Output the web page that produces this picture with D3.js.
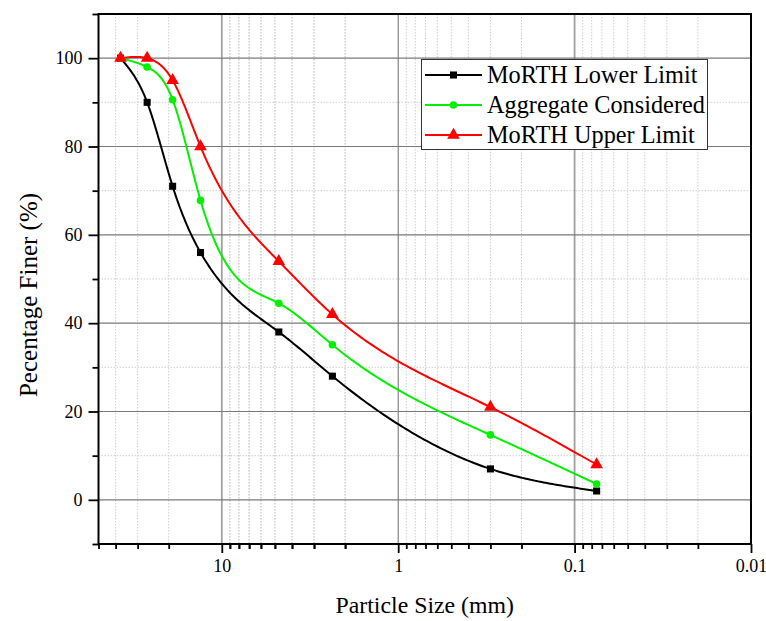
<!DOCTYPE html>
<html>
<head>
<meta charset="utf-8">
<script src="https://cdn.jsdelivr.net/npm/d3@7/dist/d3.min.js"></script>
<style>
  html, body { margin: 0; padding: 0; background: #fff; }
  svg { display: block; }
  text { font-family: "Liberation Serif", "Times New Roman", serif; fill: #000; }
</style>
</head>
<body>
<svg id="chart" width="766" height="621"></svg>
<script>
// Sieve sizes (mm) and percentage passing for each gradation
const sieveSizes = [37.5, 26.5, 19, 13.2, 4.75, 2.36, 0.3, 0.075];
const lowerLimit = [100, 90, 71, 56, 38, 28, 7, 2];
const aggregate  = [100, 98, 90.6, 67.8, 44.5, 35.1, 14.7, 3.6];
const upperLimit = [100, 100, 95, 80, 54, 42, 21, 8];

const seriesNames = ["MoRTH Lower Limit", "Aggregate Considered", "MoRTH Upper Limit"];
const seriesColors = ["#000000", "#00f000", "#ff0000"];
const seriesSymbols = [d3.symbolSquare, d3.symbolCircle, d3.symbolTriangle];
const seriesSymbolSizes = [50, 45, 70];

const xMajorTicks = [10, 1, 0.1, 0.01];
const yMajorTicks = [0, 20, 40, 60, 80, 100];
const yMinorTicks = [-10, 10, 30, 50, 70, 90, 110];

const margin = { left: 98.5, right: 15, top: 14, bottom: 77 };
const W = 766, H = 621;
const svg = d3.select("#chart");

const x = d3.scaleLog().domain([50, 0.01]).range([margin.left, W - margin.right]);
const y = d3.scaleLinear().domain([-10, 110]).range([H - margin.bottom, margin.top]);

const x0 = x.range()[0], x1 = x.range()[1];
const y0 = y.range()[0], y1 = y.range()[1];

// minor x positions: 2..9 in each decade, plus 20..50 in the top decade
const xMinorTicks = [];
[0.01, 0.1, 1].forEach(base => { for (let k = 2; k <= 9; k++) xMinorTicks.push(+(base * k).toPrecision(3)); });
for (let k = 2; k <= 9; k++) xMinorTicks.push(k);
[20, 30, 40, 50].forEach(v => xMinorTicks.push(v));

const grid = svg.append("g");
// minor grid (dotted)
grid.selectAll(".vminor").data(xMinorTicks.filter(v => v < 50)).join("line")
  .attr("x1", d => x(d)).attr("x2", d => x(d)).attr("y1", y1).attr("y2", y0)
  .attr("stroke", "#cfcfcf").attr("stroke-width", 1).attr("stroke-dasharray", "1.5,1.5");
grid.selectAll(".hminor").data(yMinorTicks.filter(v => v > -10 && v < 110)).join("line")
  .attr("x1", x0).attr("x2", x1).attr("y1", d => y(d)).attr("y2", d => y(d))
  .attr("stroke", "#cfcfcf").attr("stroke-width", 1).attr("stroke-dasharray", "1.5,1.5");
// major grid
grid.selectAll(".vmajor").data(xMajorTicks.filter(v => v > 0.01)).join("line")
  .attr("x1", d => x(d)).attr("x2", d => x(d)).attr("y1", y1).attr("y2", y0)
  .attr("stroke", (d, i) => i === 1 ? "#6a6a6a" : "#a0a0a0")
  .attr("stroke-width", (d, i) => i === 1 ? 1 : 1.8);
grid.selectAll(".hmajor").data(yMajorTicks).join("line")
  .attr("x1", x0).attr("x2", x1).attr("y1", d => y(d)).attr("y2", d => y(d))
  .attr("stroke", "#7a7a7a").attr("stroke-width", 1.2);

// axes with outward ticks
const xAxisMajor = d3.axisBottom(x).tickValues(xMajorTicks).tickSize(9).tickPadding(6)
  .tickFormat(d => String(d));
const xAxisMinor = d3.axisBottom(x).tickValues(xMinorTicks).tickSize(5).tickFormat("");
const yAxisMajor = d3.axisLeft(y).tickValues(yMajorTicks).tickSize(10).tickPadding(6);
const yAxisMinor = d3.axisLeft(y).tickValues(yMinorTicks).tickSize(6).tickFormat("");

function styleAxis(g) {
  g.attr("font-family", null);
  g.select(".domain").remove();
  g.selectAll(".tick line").attr("stroke", "#000").attr("stroke-width", 1.8);
  g.selectAll("text").attr("font-size", 18);
}
svg.append("g").attr("transform", `translate(0,${y0})`).call(xAxisMinor).call(styleAxis);
svg.append("g").attr("transform", `translate(0,${y0})`).call(xAxisMajor).call(styleAxis);
svg.append("g").attr("transform", `translate(${x0},0)`).call(yAxisMinor).call(styleAxis);
svg.append("g").attr("transform", `translate(${x0},0)`).call(yAxisMajor).call(styleAxis);

// frame
svg.append("rect").attr("x", x0).attr("y", y1).attr("width", x1 - x0).attr("height", y0 - y1)
  .attr("fill", "none").attr("stroke", "#000").attr("stroke-width", 2);

// axis titles
svg.append("text").attr("x", (x0 + x1) / 2).attr("y", 613).attr("text-anchor", "middle")
  .attr("font-size", 23.8).text("Particle Size (mm)");
svg.append("text").attr("transform", "translate(37,295) rotate(-90)").attr("text-anchor", "middle")
  .attr("font-size", 25).text("Pecentage Finer (%)");

// natural cubic spline y(u) through (us, ys), us ascending
function naturalSpline(us, ys) {
  const n = us.length;
  const h = [], a = [], b = [], c = [], r = [];
  for (let i = 0; i < n - 1; i++) h.push(us[i + 1] - us[i]);
  const m = new Array(n).fill(0);
  for (let i = 1; i < n - 1; i++) {
    a.push(h[i - 1]); b.push(2 * (h[i - 1] + h[i])); c.push(h[i]);
    r.push(6 * ((ys[i + 1] - ys[i]) / h[i] - (ys[i] - ys[i - 1]) / h[i - 1]));
  }
  const k = r.length;
  for (let i = 1; i < k; i++) {
    const w = a[i] / b[i - 1];
    b[i] -= w * c[i - 1];
    r[i] -= w * r[i - 1];
  }
  const sol = new Array(k);
  for (let i = k - 1; i >= 0; i--) sol[i] = (r[i] - (i < k - 1 ? c[i] * sol[i + 1] : 0)) / b[i];
  for (let i = 0; i < k; i++) m[i + 1] = sol[i];
  return function (t) {
    let i = 0;
    while (i < n - 2 && t > us[i + 1]) i++;
    const hi = h[i], A = (us[i + 1] - t) / hi, B = (t - us[i]) / hi;
    return A * ys[i] + B * ys[i + 1] + ((A * A * A - A) * m[i] + (B * B * B - B) * m[i + 1]) * hi * hi / 6;
  };
}

// dense samples of each spline, fitted against log10 of particle size
function curveSamples(vals) {
  const order = d3.range(sieveSizes.length).sort((p, q) => sieveSizes[p] - sieveSizes[q]);
  const us = order.map(i => Math.log10(sieveSizes[i])), ys = order.map(i => vals[i]);
  const f = naturalSpline(us, ys);
  const out = [];
  for (let i = 0; i < us.length - 1; i++) {
    for (let s = 0; s < 60; s++) {
      const u = us[i] + (us[i + 1] - us[i]) * s / 60;
      out.push([Math.pow(10, u), f(u)]);
    }
  }
  out.push([Math.pow(10, us[us.length - 1]), ys[ys.length - 1]]);
  return out;
}

// series
const allSeries = [lowerLimit, aggregate, upperLimit];
const line = d3.line().x(d => x(d[0])).y(d => y(d[1]));
const plot = svg.append("g");
allSeries.forEach((vals, i) => {
  plot.append("path").datum(curveSamples(vals)).attr("d", line)
    .attr("fill", "none").attr("stroke", seriesColors[i]).attr("stroke-width", 2)
    .attr("stroke-linejoin", "round");
});
allSeries.forEach((vals, i) => {
  const pts = sieveSizes.map((s, j) => [s, vals[j]]);
  plot.selectAll(null).data(pts).join("path")
    .attr("transform", d => `translate(${x(d[0])},${y(d[1])})`)
    .attr("d", d3.symbol().type(seriesSymbols[i]).size(seriesSymbolSizes[i]))
    .attr("fill", seriesColors[i]);
});

// legend
const lg = svg.append("g");
lg.append("rect").attr("x", 421.5).attr("y", 59.5).attr("width", 286).attr("height", 90)
  .attr("fill", "#fff").attr("stroke", "#333").attr("stroke-width", 1);
seriesNames.forEach((name, i) => {
  const cy = 75 + i * 30;
  lg.append("line").attr("x1", 425).attr("x2", 482).attr("y1", cy).attr("y2", cy)
    .attr("stroke", seriesColors[i]).attr("stroke-width", 2);
  lg.append("path").attr("transform", `translate(453.5,${cy})`)
    .attr("d", d3.symbol().type(seriesSymbols[i]).size(seriesSymbolSizes[i]))
    .attr("fill", seriesColors[i]);
  lg.append("text").attr("x", 487).attr("y", cy + 8).attr("font-size", 24.3).text(name);
});
</script>
</body>
</html>
